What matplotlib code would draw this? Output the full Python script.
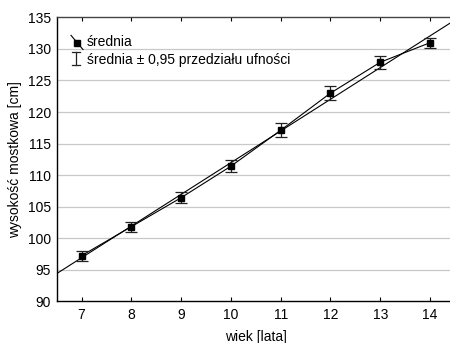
import matplotlib
matplotlib.use("Agg")
import matplotlib.pyplot as plt
import numpy as np

age = [7, 8, 9, 10, 11, 12, 13, 14]
mean_height = [97.2, 101.8, 106.4, 111.4, 117.1, 123.0, 127.9, 131.0]
ci95 = [0.8, 0.8, 0.9, 1.0, 1.1, 1.1, 1.0, 0.8]
yticks = [90, 95, 100, 105, 110, 115, 120, 125, 130, 135]
xticks = [7, 8, 9, 10, 11, 12, 13, 14]

plt.rcParams['font.family'] = ['Liberation Sans', 'DejaVu Sans']
FS = 10

fig = plt.figure(figsize=(4.5, 3.43), dpi=100)
ax = fig.add_axes([0.126, 0.1224, 0.885, 0.8266])

ax.set_xlim(6.5, 14.5)
ax.set_ylim(90, 135)

for yv in yticks[1:-1]:
    ax.axhline(yv, color='#c8c8c8', lw=0.9, zorder=0)

# regression line
b, a = np.polyfit(age, mean_height, 1)
xx = np.array([6.5, 14.5])
ax.plot(xx, a + b * xx, color='black', lw=0.8, zorder=2)

ax.plot(age, mean_height, color='black', lw=0.8, zorder=2)
ax.errorbar(age, mean_height, yerr=ci95, fmt='s', color='black', ms=4.2,
            ecolor='#222222', elinewidth=0.9, capsize=4, capthick=0.9, zorder=3)

ax.set_xticks(xticks)
ax.set_yticks(yticks)
ax.tick_params(axis='x', direction='in', length=3, width=0.8, top=True, labelsize=FS, pad=5)
ax.tick_params(axis='y', length=0, labelsize=FS, pad=4)
for s in ['left', 'bottom']:
    ax.spines[s].set_linewidth(1.0)
ax.spines['top'].set_linewidth(1.0)
ax.spines['top'].set_color('#444444')
ax.spines['right'].set_visible(False)

ax.set_xlabel('wiek [lata]', fontsize=FS, labelpad=6)
ax.set_ylabel('wysokość mostkowa [cm]', fontsize=FS, labelpad=4)

# legend (manual)
tr = ax.transAxes
ax.plot([0.036, 0.066], [0.937, 0.887], transform=tr, color='black', lw=0.8)
ax.plot([0.0518], [0.9107], 's', transform=tr, color='black', ms=4)
ax.text(0.0754, 0.9136, 'średnia', transform=tr, fontsize=FS, va='center')
ax.plot([0.0488, 0.0488], [0.877, 0.8325], transform=tr, color='#222222', lw=0.9)
ax.plot([0.0392, 0.0585], [0.877, 0.877], transform=tr, color='#222222', lw=0.9)
ax.plot([0.0392, 0.0585], [0.8325, 0.8325], transform=tr, color='#222222', lw=0.9)
ax.text(0.0754, 0.851, 'średnia ± 0,95 przedziału ufności', transform=tr, fontsize=FS, va='center')

fig.savefig('out.png', dpi=100)
